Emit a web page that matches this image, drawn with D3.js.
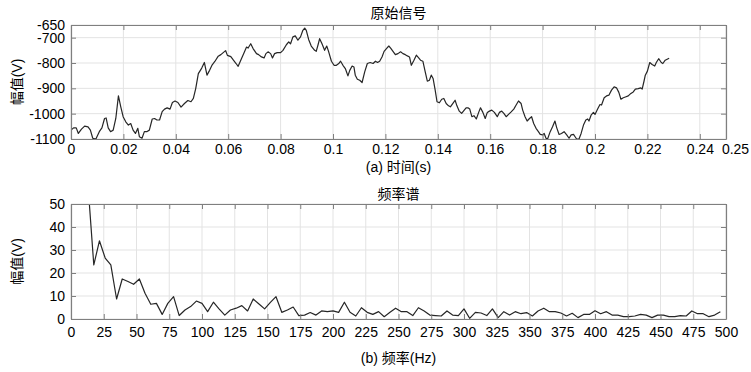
<!DOCTYPE html>
<html>
<head>
<meta charset="utf-8">
<script src="https://cdn.jsdelivr.net/npm/d3@7"></script>
<style>
  body { margin: 0; background: #fff; }
  text { font-family: "Liberation Sans", Arial, "Noto Sans CJK SC", sans-serif; }
  .cjk { font-family: "Liberation Sans", "Noto Sans CJK SC", sans-serif; }
</style>
</head>
<body>
<div id="container"></div>
<script>
// ---- data ----
// top panel: raw signal, time in ms, amplitude in V
let timeMs = [0, 1, 2, 2.8, 4, 5.2, 6.5, 7.4, 8.3, 9.5, 10.8, 11.8, 12.8, 13.4, 14.2, 15.1, 16.1, 17.1, 18.1,
  19, 19.9, 20.9, 21.9, 22.8, 23.7, 24.6, 25.5, 26.1, 27.1, 28, 28.9, 29.9, 31, 31.9, 32.8, 33.8,
  34.8, 35.7, 36.7, 37.8, 38.7, 39.7, 40.8, 42, 43.3, 44.6, 45.8, 46.7, 47.6, 48.6, 49.9, 50.9,
  51.9, 52.9, 53.9, 54.9, 56.2, 57.2, 58.1, 59, 59.7, 61, 62, 63, 63.8, 64.8, 66.1, 67, 67.6,
  68.6, 69.5, 70.8, 71.6, 72.7, 73.7, 74.4, 75.2, 76.2, 76.9, 77.7, 78.7, 80, 80.9, 82.2, 83.1,
  83.8, 84.7, 85.6, 86.6, 87.6, 88.5, 89.2, 89.8, 90.7, 91.7, 93, 93.6, 94.3, 94.9, 95.8, 96.8,
  97.6, 98.3, 99.4, 100.4, 101.3, 102.2, 102.9, 103.8, 104.7, 105.7, 106.4, 107.3, 108, 108.5,
  109.3, 110.2, 111.1, 112.1, 113.1, 114.2, 115.3, 116.2, 117, 117.8, 118.7, 119.5, 120.4, 121.3,
  122, 122.9, 123.8, 124.8, 125.8, 126.7, 127.6, 128.4, 129.2, 129.9, 130.9, 131.8, 132.7, 133.4,
  134.3, 135.2, 136, 136.8, 137.5, 138.2, 139, 139.7, 140.6, 141.5, 142.3, 143.2, 144.1, 144.8,
  145.7, 146.6, 147.3, 148.2, 149.1, 150.1, 150.8, 151.5, 152.2, 153, 153.8, 154.7, 155.6, 156.3,
  157.2, 158.1, 158.9, 159.7, 160.6, 161.6, 162.7, 163.5, 164.4, 165.2, 166.1, 167, 168, 169,
  169.9, 170.8, 171.8, 172.4, 173.3, 174.1, 175, 175.8, 176.6, 177.5, 178.4, 179.1, 180, 180.6,
  181.3, 181.9, 182.9, 183.8, 184.7, 185.4, 186.3, 187.2, 188.2, 189.2, 190.1, 190.9, 191.8, 192.4,
  193, 193.9, 194.7, 195.6, 196.5, 197.2, 197.7, 198.5, 199.4, 200, 201, 201.9, 202.5, 203.5,
  204.4, 205.3, 206.3, 207.3, 208.2, 209.1, 209.9, 210.8, 211.6, 212.7, 213.7, 214.6, 215.4, 216.5,
  217.5, 218, 218.7, 219.2, 220, 220.9, 221.8, 222.8, 223.4, 224.3, 225.3, 225.9, 226.8, 228.3];
let signalV = [-1065, -1056, -1056, -1078, -1061, -1049, -1052, -1065, -1097, -1100, -1071, -1056, -1019, -1017, -1056, -1071, -1065, -1019, -930,
  -973, -1012, -1032, -1045, -1039, -1065, -1078, -1058, -1091, -1097, -1071, -1071, -1065, -1021, -1019, -1025, -1025,
  -992, -982, -977, -982, -956, -950, -956, -974, -960, -948, -953, -940, -901, -842, -820, -798,
  -848, -829, -807, -794, -773, -767, -759, -751, -770, -775, -789, -802, -813, -789, -759, -737, -741,
  -724, -743, -763, -767, -776, -780, -763, -756, -763, -780, -763, -759, -759, -750, -728, -717,
  -724, -697, -693, -710, -697, -671, -662, -671, -707, -733, -750, -754, -728, -704, -724, -750,
  -733, -754, -793, -809, -809, -802, -793, -809, -822, -851, -829, -812, -816, -848,
  -864, -868, -877, -835, -802, -798, -802, -793, -798, -793, -776, -754, -743, -733,
  -741, -754, -767, -763, -756, -763, -767, -772, -776, -809, -789, -769, -780, -789,
  -793, -835, -872, -868, -848, -861, -907, -953, -957, -943, -940, -960, -969, -973,
  -960, -947, -969, -990, -999, -986, -977, -977, -982, -1012, -1008, -1021, -995, -977,
  -995, -1019, -995, -990, -986, -995, -1012, -995, -990, -999, -1012, -1003, -993, -982,
  -966, -950, -960, -986, -1012, -1029, -1019, -1012, -1039, -1058, -1071, -1082, -1084, -1078,
  -1097, -1100, -1071, -1052, -1029, -1056, -1082, -1078, -1071, -1084, -1097, -1084, -1082, -1091,
  -1100, -1100, -1078, -1045, -1025, -1021, -1029, -1006, -995, -1003, -982, -964, -966, -937,
  -930, -927, -907, -894, -898, -916, -943, -937, -934, -930, -920, -914, -903, -901,
  -898, -903, -872, -848, -832, -798, -806, -812, -798, -783, -798, -802, -789, -781];

// bottom panel: amplitude spectrum
let freqHz = [13, 17.4, 21.7, 26.1, 30.4, 34.8, 39.1, 43.5, 47.8, 52.2, 56.5, 60.9, 65.2, 69.6, 73.9,
  78.3, 82.6, 87, 91.3, 95.7, 100, 104.3, 108.7, 113, 117.4, 121.7, 126.1, 130.4, 134.8, 139.1,
  143.5, 147.8, 152.2, 156.5, 160.9, 165.2, 169.6, 173.9, 178.3, 182.6, 187, 191.3, 195.7, 200,
  204.3, 208.7, 213, 217.4, 221.7, 226.1, 230.4, 234.8, 239.1, 243.5, 247.8, 252.2, 256.5, 260.9,
  265.2, 269.6, 273.9, 278.3, 282.6, 287, 291.3, 295.7, 300, 304.3, 308.7, 313, 317.4, 321.7,
  326.1, 330.4, 334.8, 339.1, 343.5, 347.8, 352.2, 356.5, 360.9, 365.2, 369.6, 373.9, 378.3, 382.6,
  387, 391.3, 395.7, 400, 404.3, 408.7, 413, 417.4, 421.7, 426.1, 430.4, 434.8, 439.1, 443.5,
  447.8, 452.2, 456.5, 460.9, 465.2, 469.6, 473.9, 478.3, 482.6, 487, 491.3, 495.7, 500];
let ampV = [58, 23.5, 34, 26.5, 23.5, 8.7, 17.4, 16.3, 15.1, 17.4, 11.2, 6.4, 6.8, 2, 6.8,
  9.7, 1.5, 3.9, 5.4, 7.8, 6.8, 3.2, 7.3, 4.4, 1.7, 3.9, 4.7, 5.8, 3.5, 8.7,
  6.5, 4.4, 7.2, 9.7, 2.9, 3.9, 5.2, 1.5, 1.7, 2.8, 1.7, 3.5, 3.2, 3.5,
  2.9, 7.3, 2.9, 1.3, 4.9, 2.9, 2, 3.2, 1, 2.9, 4.7, 3.2, 3.2, 1.5,
  4.9, 3.5, 1.7, 1.5, 1.3, 3.5, 1.7, 1.5, 4.4, 0.3, 2.9, 2.6, 1.5, 4.4,
  0.6, 3.2, 1.7, 3.2, 2.3, 2.8, 1.3, 3.5, 4.7, 3.2, 3.2, 2.6, 1.3,
  2.5, 0.6, 2, 2, 3.6, 2.3, 3.2, 1.7, 1.7, 1, 1, 1.3, 2, 1.7,
  0.6, 1.7, 1.7, 1, 1, 1.5, 1.3, 3.5, 2.3, 2.3, 1, 1.7, 3.2];

// tick values / labels
let timeTicks = [0, 0.02, 0.04, 0.06, 0.08, 0.1, 0.12, 0.14, 0.16, 0.18, 0.2, 0.22, 0.24, 0.25];
let signalTicks = [-1100, -1000, -900, -800, -700, -650];
let freqTicks = d3.range(0, 501, 25);
let ampTicks = [0, 10, 20, 30, 40, 50];

let titles = ["原始信号", "频率谱"];
let xLabels = ["(a) 时间(s)", "(b) 频率(Hz)"];
let yLabel = "幅值(V)";

// ---- layout ----
let w = 751;
let h = 372;
let left = 71;
let right = 726;

let viz = d3.select("#container")
  .append("svg")
    .attr("width", w)
    .attr("height", h)
;

let signalData = timeMs.map(function(t, i){
  return { x: t / 1000, y: signalV[i] };
});
let spectrumData = freqHz.map(function(f, i){
  return { x: f, y: ampV[i] };
});

drawPanel({
  top: 25, bottom: 139,
  xDomain: [0, 0.25], yDomain: [-1100, -650],
  xTicks: timeTicks, yTicks: signalTicks,
  xFormat: function(d){ return String(+d.toFixed(2)); },
  xPad: 5,
  data: signalData,
  title: titles[0], xLabel: xLabels[0],
  titleY: 18, xLabelY: 172,
  id: "p1"
});

drawPanel({
  top: 204, bottom: 319,
  xDomain: [0, 500], yDomain: [0, 50],
  xTicks: freqTicks, yTicks: ampTicks,
  xFormat: function(d){ return String(d); },
  xPad: 8,
  data: spectrumData,
  title: titles[1], xLabel: xLabels[1],
  titleY: 199, xLabelY: 363,
  id: "p2"
});

// the last time label sits a bit to the right of its tick in the original
viz.selectAll(".tick text")
  .filter(function(d){ return d === 0.25; })
  .attr("dx", 9)
;

function drawPanel(p){
  let xScale = d3.scaleLinear().domain(p.xDomain).range([left, right]);
  let yScale = d3.scaleLinear().domain(p.yDomain).range([p.bottom, p.top]);
  let g = viz.append("g");

  // grid lines
  g.append("g").selectAll("line").data(p.xTicks).enter()
    .append("line")
      .attr("x1", function(d){ return xScale(d); })
      .attr("x2", function(d){ return xScale(d); })
      .attr("y1", p.top).attr("y2", p.bottom)
      .attr("stroke", "#e3e3e3")
      .attr("stroke-width", 1)
  ;
  g.append("g").selectAll("line").data(p.yTicks).enter()
    .append("line")
      .attr("y1", function(d){ return yScale(d); })
      .attr("y2", function(d){ return yScale(d); })
      .attr("x1", left).attr("x2", right)
      .attr("stroke", "#e3e3e3")
      .attr("stroke-width", 1)
  ;

  // clip so the spectrum's first segment gets cut at the top
  viz.append("clipPath").attr("id", "clip" + p.id)
    .append("rect")
      .attr("x", left).attr("y", p.top)
      .attr("width", right - left).attr("height", p.bottom - p.top)
  ;

  let lineMaker = d3.line()
    .x(function(d){ return xScale(d.x); })
    .y(function(d){ return yScale(d.y); })
  ;
  g.append("path")
    .datum(p.data)
    .attr("d", lineMaker)
    .attr("clip-path", "url(#clip" + p.id + ")")
    .attr("fill", "none")
    .attr("stroke", "#262626")
    .attr("stroke-width", 1.2)
    .attr("stroke-linejoin", "round")
  ;

  // axes, ticks pointing inwards like matlab
  let xAxis = d3.axisBottom(xScale).tickValues(p.xTicks).tickFormat(p.xFormat)
    .tickSizeInner(-5).tickSizeOuter(0).tickPadding(p.xPad);
  let yAxis = d3.axisLeft(yScale).tickValues(p.yTicks)
    .tickFormat(function(d){ return String(d); })
    .tickSizeInner(-5).tickSizeOuter(0).tickPadding(6);
  let xTop = d3.axisTop(xScale).tickValues(p.xTicks).tickFormat("")
    .tickSizeInner(-5).tickSizeOuter(0);
  let yRight = d3.axisRight(yScale).tickValues(p.yTicks).tickFormat("")
    .tickSizeInner(-5).tickSizeOuter(0);

  let axes = [
    g.append("g").attr("transform", "translate(0," + p.bottom + ")").call(xAxis),
    g.append("g").attr("transform", "translate(" + left + ",0)").call(yAxis),
    g.append("g").attr("transform", "translate(0," + p.top + ")").call(xTop),
    g.append("g").attr("transform", "translate(" + right + ",0)").call(yRight)
  ];
  axes.forEach(function(a){
    a.attr("font-size", null).attr("font-family", null);
    a.selectAll("path").attr("stroke", "#7f7f7f").attr("stroke-width", 1.2);
    a.selectAll("line").attr("stroke", "#7f7f7f");
    a.selectAll("text")
      .attr("fill", "#000")
      .style("font-size", "14px")
      .style("font-family", "'Liberation Sans', Arial, sans-serif");
  });

  let cx = (left + right) / 2;
  g.append("text")
    .attr("class", "cjk")
    .attr("x", cx).attr("y", p.titleY)
    .attr("text-anchor", "middle")
    .style("font-size", "14px")
    .text(p.title)
  ;
  g.append("text")
    .attr("class", "cjk")
    .attr("x", cx).attr("y", p.xLabelY)
    .attr("text-anchor", "middle")
    .style("font-size", "14px")
    .text(p.xLabel)
  ;
  g.append("text")
    .attr("class", "cjk")
    .attr("transform", "translate(22," + ((p.top + p.bottom) / 2) + ") rotate(-90)")
    .attr("text-anchor", "middle")
    .style("font-size", "14px")
    .text(yLabel)
  ;
}
</script>
</body>
</html>
